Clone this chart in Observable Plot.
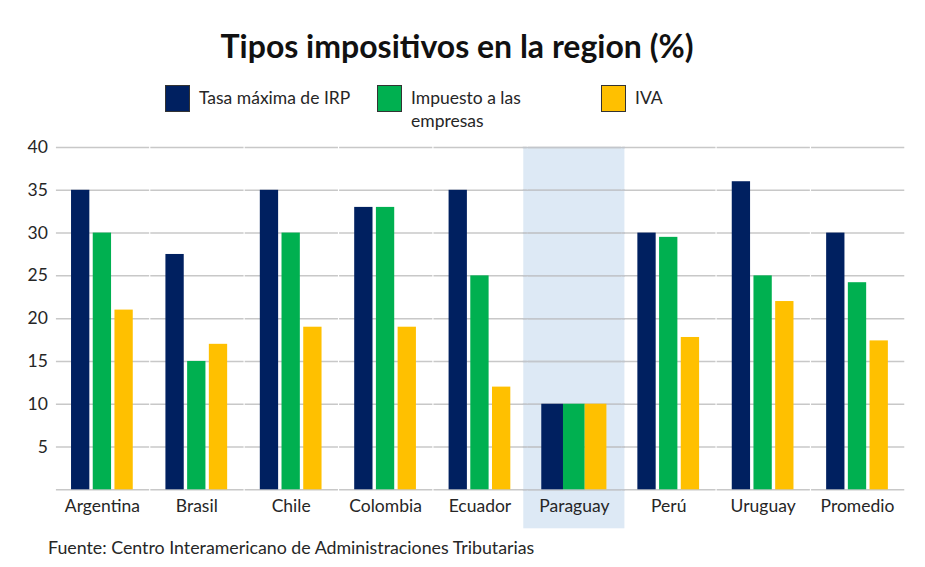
<!DOCTYPE html>
<html>
<head>
<meta charset="utf-8">
<script src="https://cdn.jsdelivr.net/npm/d3@7"></script>
<script src="https://cdn.jsdelivr.net/npm/@observablehq/plot@0.6"></script>
<style>
  html, body { margin: 0; padding: 0; background: #fff; }
  #wrap { position: relative; width: 925px; height: 567px; font-family: Lato, "Open Sans", sans-serif; color: #262626; overflow: hidden; }
  #title { position: absolute; top: 27px; left: 0; width: 914px; text-align: center; font-size: 32px; line-height: 1.2; font-weight: bold; color: #111; }
  .leg { position: absolute; top: 85px; display: flex; align-items: flex-start; font-size: 17.5px; line-height: 23px; }
  .sw { width: 23px; height: 25px; border: 1px solid #333; box-sizing: content-box; margin-right: 9px; flex: none; }
  #chart { position: absolute; top: 130px; left: 0; }
  #foot { position: absolute; top: 537px; left: 48px; font-size: 17.8px; line-height: 1.2; color: #262626; }
</style>
</head>
<body>
<div id="wrap">
  <div id="title">Tipos impositivos en la region (%)</div>
  <div id="legend"></div>
  <div id="chart"></div>
  <div id="foot">Fuente: Centro Interamericano de Administraciones Tributarias</div>
</div>
<script>
const countries = ["Argentina", "Brasil", "Chile", "Colombia", "Ecuador", "Paraguay", "Perú", "Uruguay", "Promedio"];
const seriesNames = ["Tasa máxima de IRP", "Impuesto a las empresas", "IVA"];
const irp      = [35, 27.5, 35, 33, 35, 10, 30,   36, 30];
const empresas = [30, 15,   30, 33, 25, 10, 29.5, 25, 24.2];
const iva      = [21, 17,   19, 19, 12, 10, 17.8, 22, 17.4];
const yTicks = [5, 10, 15, 20, 25, 30, 35, 40];
const highlighted = ["Paraguay"];

const seriesColors = ["#002060", "#00b050", "#ffc000"];
const legendLeft = [165, 377, 601];

const valuesBySeries = [irp, empresas, iva];
const data = countries.flatMap((c, i) =>
  seriesNames.map((s, j) => ({ country: c, series: s, value: valuesBySeries[j][i] }))
);
const gridValues = [0, ...yTicks];
const hiGrid = highlighted.flatMap(c => gridValues.map(v => ({ country: c, v })));

// legend
const legend = document.getElementById("legend");
seriesNames.forEach((s, j) => {
  const el = document.createElement("div");
  el.className = "leg";
  el.style.left = legendLeft[j] + "px";
  const sw = document.createElement("div");
  sw.className = "sw";
  sw.style.background = seriesColors[j];
  const tx = document.createElement("div");
  tx.style.maxWidth = j === 1 ? "140px" : "220px";
  tx.style.paddingTop = "1px";
  tx.textContent = s;
  el.appendChild(sw); el.appendChild(tx);
  legend.appendChild(el);
});

const chart = Plot.plot({
  width: 925,
  height: 410,
  marginTop: 17,
  marginLeft: 54.7,
  marginRight: 20.8,
  marginBottom: 50.7,
  style: { fontFamily: "Lato, 'Open Sans', sans-serif", fontSize: "17.5px", color: "#262626", background: "transparent" },
  fx: { domain: countries, paddingInner: 0.31, paddingOuter: 0.155, round: false, label: null },
  x: { domain: seriesNames, padding: 0, round: false, axis: null },
  y: { domain: [0, 40], axis: null },
  color: { domain: seriesNames, range: seriesColors },
  marks: [
    Plot.barY(highlighted.map(c => ({ country: c })), {
      fx: "country", y1: 0, y2: 40, fill: "#dde9f5",
      insetLeft: -18, insetRight: -18, insetBottom: -39
    }),
    Plot.ruleY(gridValues, { stroke: "#c8c8c8", strokeWidth: 1.5, insetLeft: -13.4, insetRight: -14.7 }),
    Plot.ruleY(hiGrid, { fx: "country", y: "v", stroke: "#c2c6cc", strokeWidth: 1.5, insetLeft: -18.5, insetRight: -18.5 }),
    Plot.barY(data.filter(d => !highlighted.includes(d.country)), {
      fx: "country", x: "series", y: "value", fill: "series", insetLeft: 1.7, insetRight: 1.7
    }),
    Plot.barY(data.filter(d => highlighted.includes(d.country)), {
      fx: "country", x: "series", y: "value", fill: "series"
    }),
    Plot.axisY({ ticks: yTicks, tickSize: 0, tickPadding: 22, label: null, fontSize: 17.5 }),
    Plot.axisFx({ anchor: "bottom", tickSize: 0, tickPadding: 10, label: null, fontSize: 17.5 })
  ]
});
document.getElementById("chart").appendChild(chart);
</script>
</body>
</html>
